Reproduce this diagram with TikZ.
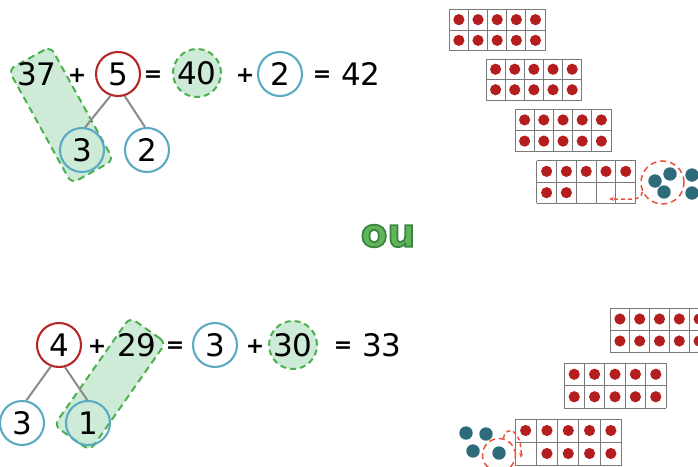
\documentclass[tikz,border=0pt]{standalone}
\usepackage{fontspec}
\setmainfont{DejaVu Sans}
\usetikzlibrary{arrows.meta}
\definecolor{redc}{HTML}{B52626}
\definecolor{bluec}{HTML}{5AAAC3}
\definecolor{greenc}{HTML}{4DAF50}
\definecolor{greenfill}{HTML}{CDEBD7}
\definecolor{grayc}{HTML}{8A8A8A}
\definecolor{dotc}{HTML}{B41E1E}
\definecolor{tealc}{HTML}{2E6B7A}
\definecolor{dashred}{HTML}{EB503C}
\definecolor{framec}{HTML}{7A7A7A}
\definecolor{oufill}{HTML}{62B45A}
\newcommand{\numfont}{\fontsize{31}{36}\selectfont}
\newcommand{\opfont}{\fontsize{22}{26}\selectfont\bfseries}
\newcommand{\oufont}{\fontsize{39}{44}\selectfont\bfseries}
\newcommand{\outlined}[1]{\special{pdf:code 2 Tr 1.8 w 0.23 0.52 0.26 RG}#1\special{pdf:code 0 Tr}}
\newcommand{\tfgrid}[4]{%
  \foreach \i in {0,...,5} {\draw[frameline] ({#1+\i*#3},#2) -- ({#1+\i*#3},{#2+2*#4});}
  \foreach \j in {0,1,2} {\draw[frameline] (#1,{#2+\j*#4}) -- ({#1+5*#3},{#2+\j*#4});}}
\newcommand{\tfdots}[5]{%
  \foreach \c/\r in {#5} {\fill[dotc] ({#1+(\c+0.5)*#3},{#2+(\r+0.5)*#4}) circle (5.6pt);}}
\tikzset{
  num/.style={font=\numfont, inner sep=0pt},
  op/.style={font=\opfont, inner sep=0pt},
  rcirc/.style={circle, draw=redc, line width=2.1pt, minimum size=44pt, inner sep=0pt, font=\numfont},
  bcirc/.style={circle, draw=bluec, line width=2.1pt, minimum size=44pt, inner sep=0pt, font=\numfont},
  gcirc/.style={circle, draw=greenc, fill=greenfill, line width=2pt, dash pattern=on 6pt off 4pt, minimum size=48pt, inner sep=0pt, font=\numfont},
  grect/.style={rectangle, draw=greenc, fill=greenfill, line width=2pt, dash pattern=on 7pt off 4.5pt, rounded corners=7pt},
  branch/.style={draw=grayc, line width=2pt},
  frameline/.style={draw=framec, line width=0.9pt},
  teal/.style={fill=tealc},
  rdash/.style={draw=dashred, line width=1.5pt, dash pattern=on 4pt off 3pt},
  rdashcirc/.style={circle, draw=dashred, line width=1.5pt, dash pattern=on 6pt off 4pt, inner sep=0pt},
  rarrow/.style={rdash, -{Stealth[length=5pt,width=4pt]}},
  outxt/.style={font=\oufont, inner sep=0pt},
}
\begin{document}
\begin{tikzpicture}[x=1pt, y=-1pt]
\useasboundingbox (0,0) rectangle (698,466);
\clip (0,0) rectangle (698,466);
% ---------- top equation ----------
\node[grect, minimum width=48pt, minimum height=130pt, rotate=29] (gr1) at (61,115) {};
\node[num] (t37) at (37,74) {37};
\node[op] (tp1) at (77,76) {+};
\node[rcirc] (t5) at (118,74) {5};
\node[op] (te1) at (153,76) {=};
\node[gcirc] (t40) at (197,73) {40};
\node[op] (tp2) at (245,76) {+};
\node[bcirc] (t2) at (280,74) {2};
\node[op] (te2) at (322,76) {=};
\node[num] (t42) at (361,74) {42};
\node[bcirc] (t3b) at (82,150) {3};
\node[bcirc] (t2b) at (147,150) {2};
\draw[branch] (t5.251) -- (t3b.82);
\draw[branch] (t5.287) -- (t2b.95);
% ---------- ou ----------
\node[outxt, text=oufill] (ou) at (388,236) {\outlined{ou}};
% ---------- bottom equation ----------
\node[grect, minimum width=44pt, minimum height=132pt, rotate=-35] (gr2) at (110,384) {};
\node[rcirc] (b4) at (59,345) {4};
\node[op] (bp1) at (97,347) {+};
\node[num] (b29) at (137,345) {29};
\node[op] (be1) at (175,347) {=};
\node[bcirc] (b3) at (215,345) {3};
\node[op] (bp2) at (255,347) {+};
\node[gcirc] (b30) at (293,345) {30};
\node[op] (be2) at (343,347) {=};
\node[num] (b33) at (382,345) {33};
\node[bcirc] (b3b) at (22,423) {3};
\node[bcirc] (b1b) at (88,423) {1};
\draw[branch] (b4.249) -- (b3b.79);
\draw[branch] (b4.285) -- (b1b.92);
% ---------- top ten frames ----------
\tfgrid{449.3}{9.3}{19.15}{20.7}
\tfdots{449.3}{9.3}{19.15}{20.7}{0/0,1/0,2/0,3/0,4/0,0/1,1/1,2/1,3/1,4/1}
\tfgrid{486}{59}{19.15}{20.5}
\tfdots{486}{59}{19.15}{20.5}{0/0,1/0,2/0,3/0,4/0,0/1,1/1,2/1,3/1,4/1}
\tfgrid{515}{109.3}{19.2}{21.2}
\tfdots{515}{109.3}{19.2}{21.2}{0/0,1/0,2/0,3/0,4/0,0/1,1/1,2/1,3/1,4/1}
\tfgrid{536.7}{160.7}{19.8}{21.3}
\tfdots{536.7}{160.7}{19.8}{21.3}{0/0,1/0,2/0,3/0,4/0,0/1,1/1}
\node[rdashcirc, minimum size=43pt] (dc1) at (662.5,182.5) {};
\fill[teal] (655,181) circle (6.7pt);
\fill[teal] (670,174) circle (6.7pt);
\fill[teal] (664,192) circle (6.7pt);
\fill[teal] (692,175) circle (6.7pt);
\fill[teal] (692,193) circle (6.7pt);
\coordinate (a1end) at (609,199);
\draw[rarrow] (dc1.205) to[out=-95,in=0] (633,199) -- (a1end);
% ---------- bottom ten frames ----------
\tfgrid{610}{308}{19.8}{22}
\tfdots{610}{308}{19.8}{22}{0/0,1/0,2/0,3/0,4/0,0/1,1/1,2/1,3/1,4/1}
\tfgrid{564}{363}{20.4}{22.5}
\tfdots{564}{363}{20.4}{22.5}{0/0,1/0,2/0,3/0,4/0,0/1,1/1,2/1,3/1,4/1}
\tfgrid{515}{419}{21.3}{23}
\tfdots{515}{419}{21.3}{23}{0/0,1/0,2/0,3/0,4/0,1/1,2/1,3/1,4/1}
\fill[teal] (466,433) circle (6.7pt);
\fill[teal] (486,434) circle (6.7pt);
\fill[teal] (473,451) circle (6.7pt);
\fill[teal] (499,453) circle (6.7pt);
\node[rdashcirc, minimum size=33pt] (dc2) at (499,455) {};
\coordinate (a2end) at (521,458);
\draw[rarrow] (dc2.75) .. controls (506,424) and (522,430) .. (a2end);
\end{tikzpicture}
\end{document}
